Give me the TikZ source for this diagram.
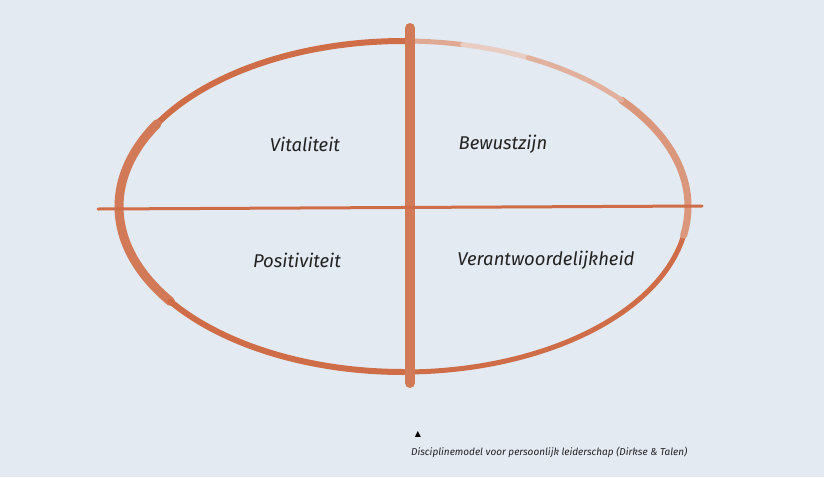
\documentclass[tikz,border=0pt]{standalone}
\usepackage{fontspec}
\setmainfont{Fira Sans}
\newfontfamily\symfont{DejaVu Sans}
\definecolor{bg}{HTML}{E3EAF2}
\definecolor{brush}{HTML}{CE6D48}
\definecolor{brushA}{HTML}{D27A58}
\definecolor{brushB}{HTML}{DA977C}
\definecolor{brushC}{HTML}{DFA994}
\definecolor{brushD}{HTML}{E9CDC2}
\definecolor{brushE}{HTML}{E1B19D}
\definecolor{ink}{HTML}{222222}

\begin{document}
\begin{tikzpicture}[x=1pt,y=-1pt,line cap=round]
    \tikzstyle{quadrant}=[font=\itshape\fontsize{18.5}{20}\selectfont,text=ink,inner sep=0pt]
    \tikzstyle{caption}=[font=\itshape\fontsize{10}{12}\selectfont,text=ink,inner sep=0pt,anchor=west]
    \fill[bg] (0,0) rectangle (824,477);
    \useasboundingbox (0,0) rectangle (824,477);

    % ring, drawn as brush strokes of changing tone
    \foreach \from/\to/\col/\w in {210/272/brush/6, 145/210/brushA/9, 90/145/brush/6,
            10/90/brush/5, -40/10/brushB/7, 272/282/brushC/5, 282/296/brushD/5,
            296/320/brushE/5}
        \draw[\col,line width=\w pt] (403.5,206.5) ++(\from:284.5 and 165.5)
            arc[start angle=\from,end angle=\to,x radius=284.5,y radius=165.5];

    \coordinate (top) at (410,28);
    \coordinate (bottom) at (410,383);
    \coordinate (left) at (98,209);
    \coordinate (right) at (702,206);

    \draw[brushA,line width=10pt] (top) -- (bottom);
    \draw[brush,line width=3pt] (left) -- (right);

    \node[quadrant] (V) at (305,144) {Vitaliteit};
    \node[quadrant] (B) at (503,144) {Bewustzijn};
    \node[quadrant] (P) at (297,260) {Positiviteit};
    \node[quadrant] (R) at (546,260) {Verantwoordelijkheid};

    \node[font=\symfont\fontsize{8}{8}\selectfont,text=black,inner sep=0pt] (mark) at (418,434) {▲};
    \node[caption] (cap) at (411,452) {Disciplinemodel voor persoonlijk leiderschap (Dirkse \& Talen)};
\end{tikzpicture}
\end{document}
